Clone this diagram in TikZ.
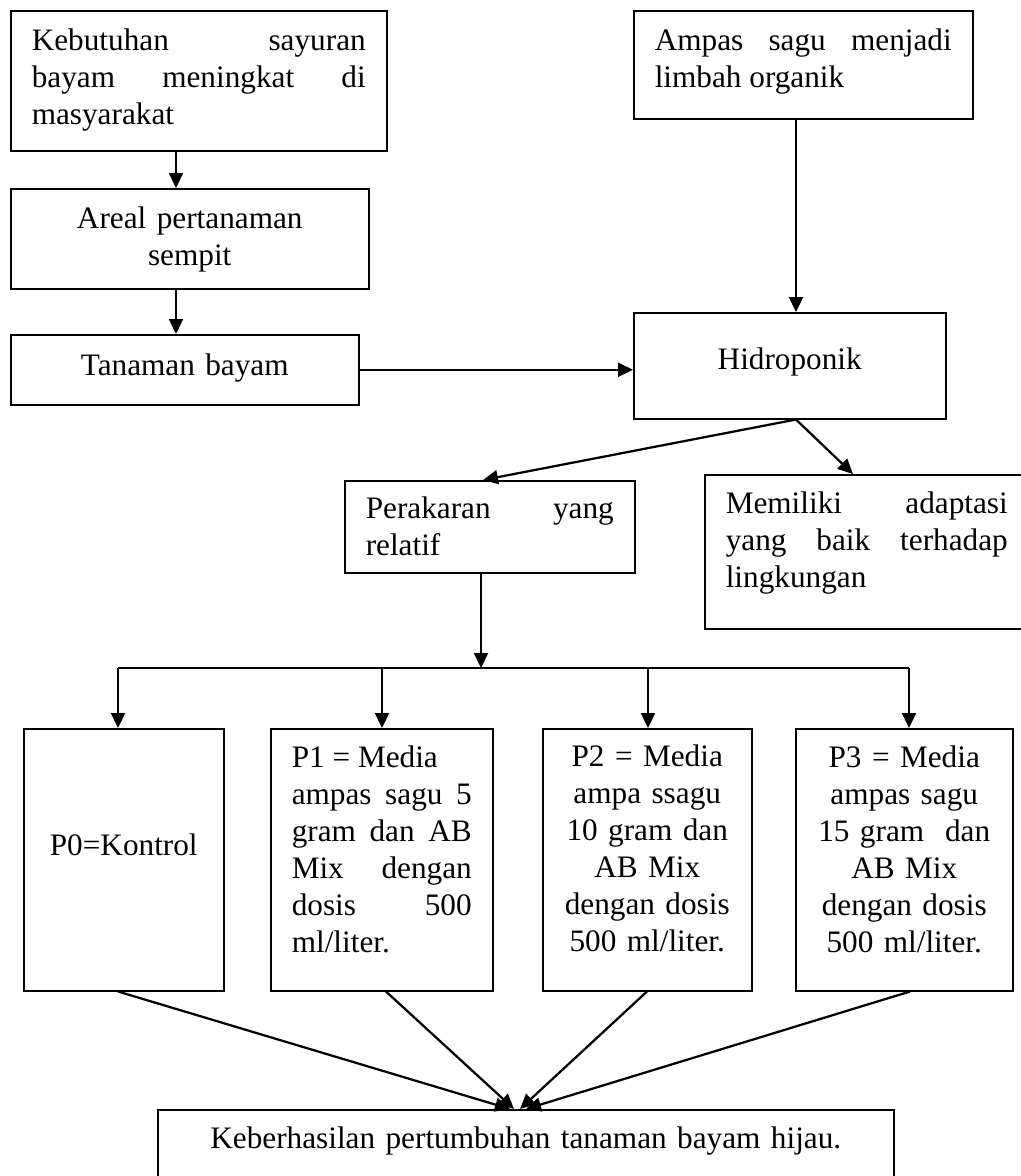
\documentclass[tikz,border=0pt]{standalone}
\usepackage{fontspec}
\setmainfont{Liberation Serif}
\usetikzlibrary{arrows.meta}

\begin{document}
\begin{tikzpicture}[
x=0.4pt, y=-0.4pt,
kotak/.style n args={3}{
  draw,
  line width=0.6pt,
  anchor=north west,
  inner xsep=8.4pt,
  inner ysep=0pt,
  font=\fontsize{12.5pt}{14.8pt}\selectfont,
  text width=#1,
  text height=#2,
  text depth=#3
  },
panah/.style={
  line width=0.9pt,
  -{Triangle[length=6pt,width=5.6pt]}
  }
]
\useasboundingbox (0,0) rectangle (1021,1176);

% kolom kiri
\node[kotak={133.6pt}{16pt}{40pt},align=justify] (b1) at (10,10)
  {Kebutuhan sayuran\linebreak bayam meningkat di\linebreak masyarakat};
\node[kotak={126.4pt}{16pt}{24pt},align=center] (b2) at (10,188)
  {Areal pertanaman\\sempit};
\node[kotak={122.4pt}{16.4pt}{11.6pt},align=center] (b3) at (10,334)
  {Tanaman bayam};

% kolom kanan
\node[kotak={118.8pt}{16pt}{27.2pt},align=justify] (b4) at (633,10)
  {Ampas sagu menjadi\linebreak limbah organik};
\node[kotak={108pt}{22.8pt}{19.6pt},align=center] (b5) at (633,312)
  {Hidroponik};
\node[kotak={99.2pt}{15.2pt}{21.6pt},align=justify] (b6) at (344,480)
  {Perakaran yang\linebreak relatif};
\node[kotak={112.8pt}{15.6pt}{46pt},align=justify] (b7) at (704,474)
  {Memiliki adaptasi\linebreak yang baik terhadap\linebreak lingkungan};

% perlakuan
\node[kotak={63.2pt}{50.8pt}{54pt},align=center] (p0) at (23,728)
  {P0=Kontrol};
\node[kotak={72pt}{15.6pt}{89.2pt},align=justify] (p1) at (270,728)
  {P1 = Media\\ampas sagu 5\linebreak gram dan AB\linebreak Mix dengan\linebreak dosis 500\linebreak ml/liter.};
\node[kotak={66.8pt}{15.2pt}{89.6pt},align=center] (p2) at (542,728)
  {P2 = Media\\ampa ssagu\\10 gram dan\\AB Mix\\dengan dosis\\500 ml/liter.};
\node[kotak={70pt}{15.6pt}{89.2pt},align=center] (p3) at (795,728)
  {P3 = Media\hspace*{10pt}\\ampas sagu\\15 gram\ \ dan\\AB Mix\\dengan dosis\\500 ml/liter.};

\node[kotak={277.6pt}{15.6pt}{16.8pt},align=center] (hasil) at (157,1109)
  {Keberhasilan pertumbuhan tanaman bayam hijau.};

% panah
\draw[panah] (176,0 |- b1.south) -- (176,0 |- b2.north);
\draw[panah] (176,0 |- b2.south) -- (176,0 |- b3.north);
\draw[panah] (b3.east) -- (b3.east -| b5.west);
\draw[panah] (796,0 |- b4.south) -- (796,0 |- b5.north);

\coordinate (pisah) at (796,0 |- b5.south);
\draw[panah] (pisah) -- (483,0 |- b6.north);
\draw[panah] (pisah) -- (853,0 |- b7.north);

\coordinate (cabang) at (481,668);
\coordinate (ki) at (118,668);
\coordinate (ka) at (909,668);
\draw[panah] (481,0 |- b6.south) -- (cabang);
\draw[line width=0.9pt] (ki) -- (ka);
\foreach \x/\n in {118/p0,382/p1,648/p2,909/p3}
  \draw[panah] (\x,668) -- (\x,0 |- \n.north);

\foreach \x/\n/\t in {118/p0/510,386/p1/514,647/p2/520,910/p3/526}
  \draw[panah] (\x,0 |- \n.south) -- (\t,0 |- hasil.north);
\end{tikzpicture}
\end{document}
